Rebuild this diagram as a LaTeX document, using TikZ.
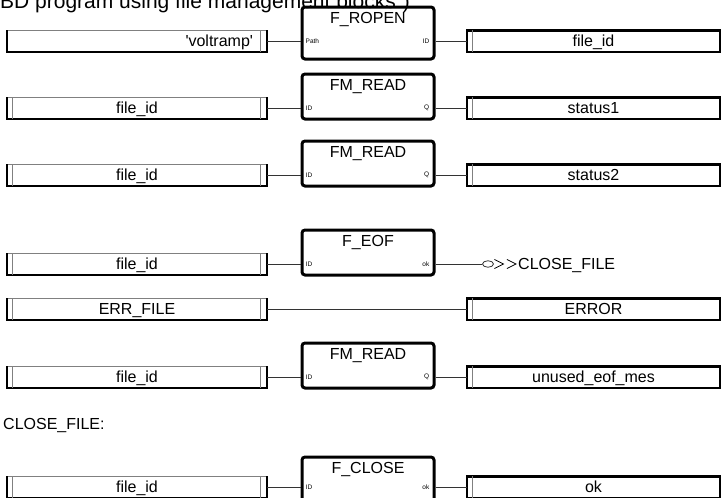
\documentclass[tikz,border=0pt]{standalone}
\usepackage{fontspec}
\setmainfont{Liberation Sans}
\newfontfamily\plainsans{Liberation Sans}
\usetikzlibrary{shapes.geometric}
\tikzset{
  vtext/.style={font=\fontsize{16}{19}\selectfont, text height=12.5, text depth=1.5, inner sep=0},
  lvar/.style={vtext, minimum width=260, minimum height=21},
  rvar/.style={vtext, minimum width=253, minimum height=21},
  fblock/.style={draw, line width=3, rounded corners=3, minimum width=132, inner sep=0, fill=white},
  fname/.style={font=\fontsize{16}{19}\selectfont, anchor=base, inner sep=0},
  port/.style={font=\fontsize{6.5}{7}\selectfont, inner sep=0},
  wire/.style={draw=black!80, line width=0.9},
  edgethick/.style={line width=2.4},
  edgethin/.style={draw=black!50, line width=0.9},
}
\newcommand{\drawLBox}[2]{%
  \draw[edgethin] (#1.north west) -- (#1.north east);
  \draw[edgethick] (#1.north west) -- (#1.south west) -- (#1.south east) -- (#1.north east);
  \draw[edgethin] ([xshift=-7]#1.north east) -- ([xshift=-7]#1.south east);
  \ifnum#2=1 \draw[edgethin] ([xshift=6]#1.north west) -- ([xshift=6]#1.south west);\fi
}
\newcommand{\drawRBox}[1]{%
  \draw[edgethick] (#1.north east) -- (#1.north west) -- (#1.south west) -- (#1.south east) -- cycle;
  \draw[edgethin] ([xshift=6]#1.north west) -- ([xshift=6]#1.south west);
}
\begin{document}
\begin{tikzpicture}[x=1pt,y=-1pt]
\useasboundingbox (0,0) rectangle (721,498);
\clip (0,0) rectangle (721,498);

% ---------- row 1: F_ROPEN ----------
\node[lvar] (v1) at (137,41) {};
\drawLBox{v1}{0}
\node[vtext, anchor=east, xshift=-14] (t1) at (v1.east) {\plainsans 'voltramp'};
\node[fblock, minimum height=52] (b1) at (368,33) {};
\node[fname] (n1) at ([yshift=-18]b1.north) {F\_ROPEN};
\node[port, anchor=west, xshift=5] (p1i) at (b1.west |- v1.east) {Path};
\node[port, anchor=east, xshift=-6] (p1o) at (b1.east |- v1.east) {ID};
\node[rvar] (r1) at (593.5,41) {file\_id};
\drawRBox{r1}
\draw[wire] (v1.east) -- (v1.east -| b1.west);
\draw[wire] (b1.east |- r1.west) -- (r1.west);

% ---------- row 2: FM_READ ----------
\node[lvar] (v2) at (137,108) {file\_id};
\drawLBox{v2}{1}
\node[fblock, minimum height=45] (b2) at (368,96.5) {};
\node[fname] (n2) at ([yshift=-17.5]b2.north) {FM\_READ};
\node[port, anchor=west, xshift=5] (p2i) at (b2.west |- v2.east) {ID};
\node[port, anchor=east, xshift=-6] (p2o) at (b2.east |- v2.east) {Q};
\node[rvar] (r2) at (593.5,108) {status1};
\drawRBox{r2}
\draw[wire] (v2.east) -- (v2.east -| b2.west);
\draw[wire] (b2.east |- r2.west) -- (r2.west);

% ---------- row 3: FM_READ ----------
\node[lvar] (v3) at (137,175) {file\_id};
\drawLBox{v3}{1}
\node[fblock, minimum height=45] (b3) at (368,163.5) {};
\node[fname] (n3) at ([yshift=-17.5]b3.north) {FM\_READ};
\node[port, anchor=west, xshift=5] (p3i) at (b3.west |- v3.east) {ID};
\node[port, anchor=east, xshift=-6] (p3o) at (b3.east |- v3.east) {Q};
\node[rvar] (r3) at (593.5,175) {status2};
\drawRBox{r3}
\draw[wire] (v3.east) -- (v3.east -| b3.west);
\draw[wire] (b3.east |- r3.west) -- (r3.west);

% ---------- row 4: F_EOF ----------
\node[lvar] (v4) at (137,264) {file\_id};
\drawLBox{v4}{1}
\node[fblock, minimum height=45] (b4) at (368,252.5) {};
\node[fname] (n4) at ([yshift=-17.5]b4.north) {F\_EOF};
\node[port, anchor=west, xshift=5] (p4i) at (b4.west |- v4.east) {ID};
\node[port, anchor=east, xshift=-6] (p4o) at (b4.east |- v4.east) {ok};
\draw[wire] (v4.east) -- (v4.east -| b4.west);
\node[draw=black!80, ellipse, line width=0.8, minimum width=11, minimum height=6.5, inner sep=0] (j4) at (488,264) {};
\draw[wire] (b4.east |- j4.west) -- (j4.west);
\draw[line width=0.8, line join=miter] ([xshift=0.5]j4.east) ++(0,-4.5) -- ++(9,4.5) -- ++(-9,4.5);
\draw[line width=0.8, line join=miter] ([xshift=13]j4.east) ++(0,-4.5) -- ++(9,4.5) -- ++(-9,4.5);
\node[vtext, anchor=west] (l4) at (518,264) {CLOSE\_FILE};

% ---------- row 5: ERR_FILE -> ERROR ----------
\node[lvar] (v5) at (137,309) {ERR\_FILE};
\drawLBox{v5}{1}
\node[rvar] (r5) at (593.5,309) {ERROR};
\drawRBox{r5}
\draw[wire] (v5.east) -- (r5.west);

% ---------- row 6: FM_READ ----------
\node[lvar] (v6) at (137,377) {file\_id};
\drawLBox{v6}{1}
\node[fblock, minimum height=45] (b6) at (368,365.5) {};
\node[fname] (n6) at ([yshift=-17.5]b6.north) {FM\_READ};
\node[port, anchor=west, xshift=5] (p6i) at (b6.west |- v6.east) {ID};
\node[port, anchor=east, xshift=-6] (p6o) at (b6.east |- v6.east) {Q};
\node[rvar] (r6) at (593.5,377) {unused\_eof\_mes};
\drawRBox{r6}
\draw[wire] (v6.east) -- (v6.east -| b6.west);
\draw[wire] (b6.east |- r6.west) -- (r6.west);

% ---------- label ----------
\node[vtext, anchor=west] (lbl) at (3,424) {CLOSE\_FILE:};

% ---------- row 7: F_CLOSE ----------
\node[lvar] (v7) at (137,487) {file\_id};
\drawLBox{v7}{1}
\node[fblock, minimum height=45] (b7) at (368,479.5) {};
\node[fname] (n7) at ([yshift=-17.5]b7.north) {F\_CLOSE};
\node[port, anchor=west, xshift=5] (p7i) at (b7.west |- v7.east) {ID};
\node[port, anchor=east, xshift=-6] (p7o) at (b7.east |- v7.east) {ok};
\node[rvar] (r7) at (593.5,487) {ok};
\drawRBox{r7}
\draw[wire] (v7.east) -- (v7.east -| b7.west);
\draw[wire] (b7.east |- r7.west) -- (r7.west);

% title (partly cut off at the top edge, as in the reference)
\node[anchor=base west, inner sep=0, font=\fontsize{21}{24}\selectfont] (title) at (0,8) {BD program using file management blocks")};
\end{tikzpicture}
\end{document}
